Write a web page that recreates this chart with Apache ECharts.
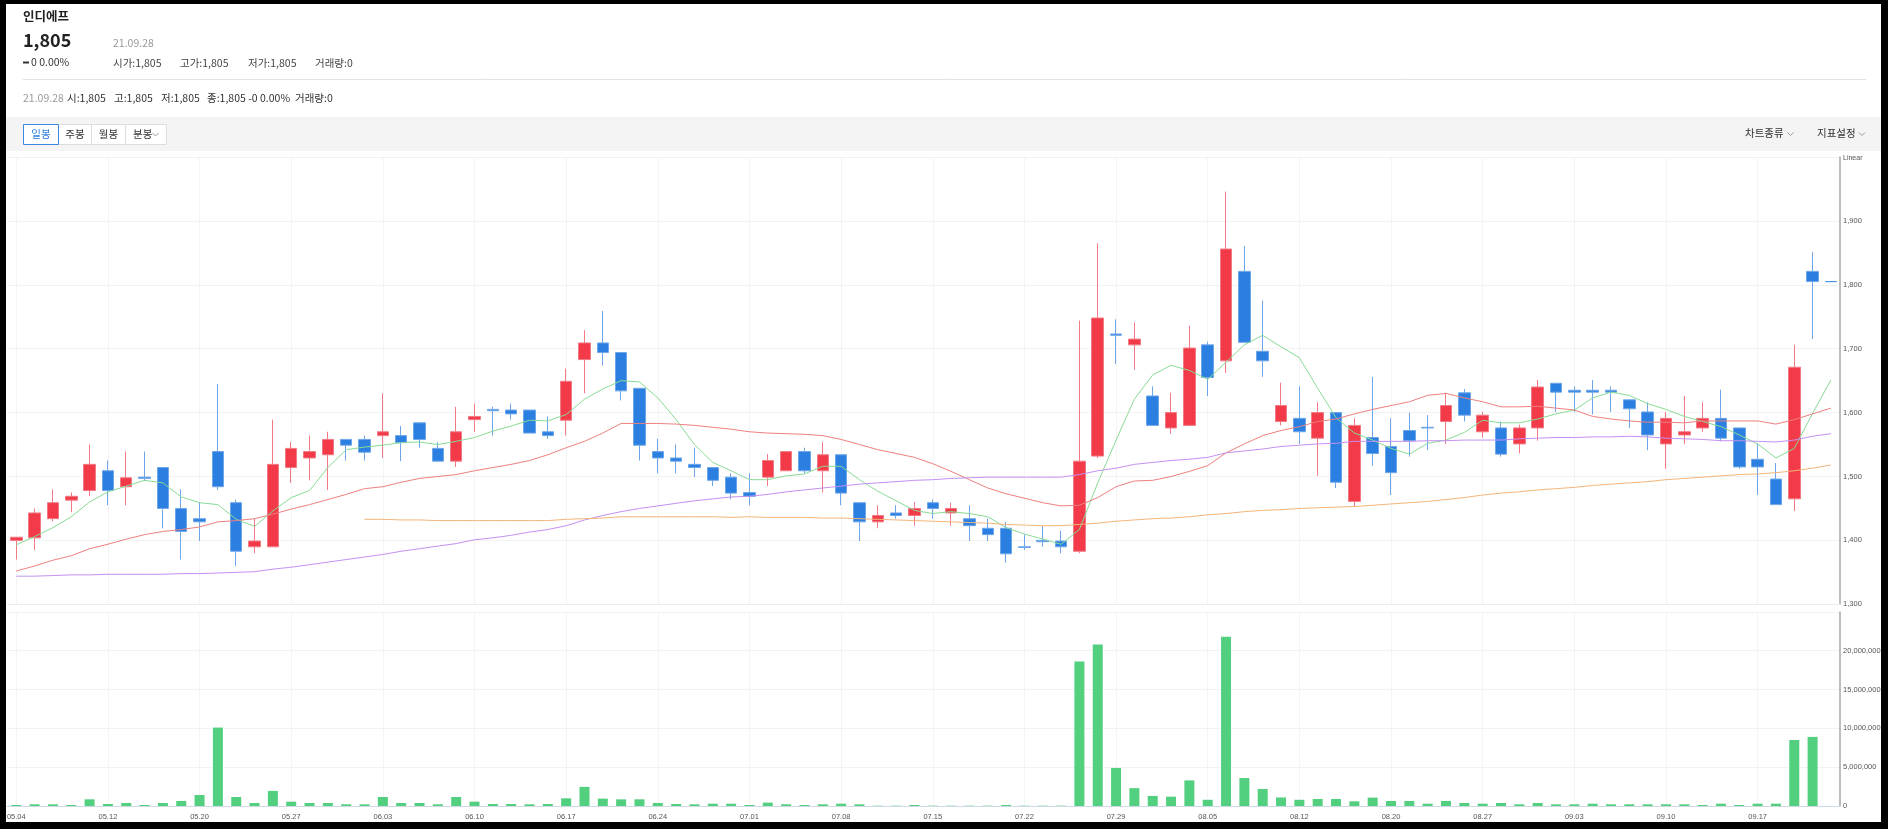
<!DOCTYPE html>
<html><head><meta charset="utf-8">
<script src="https://cdn.jsdelivr.net/npm/echarts@6/dist/echarts.min.js"></script>
<style>html,body{margin:0;padding:0;background:#000;overflow:hidden}#c{width:1888px;height:829px}</style>
</head><body><div id="c"></div>
<script>
const dates = ['05.04','05.06','05.07','05.10','05.11','05.12','05.13','05.14','05.17','05.18','05.20','05.21','05.24','05.25','05.26','05.27','05.28','05.31',
'06.01','06.02','06.03','06.04','06.07','06.08','06.09','06.10','06.11','06.14','06.15','06.16','06.17','06.18','06.21','06.22','06.23','06.24','06.25','06.28','06.29','06.30',
'07.01','07.02','07.05','07.06','07.07','07.08','07.09','07.12','07.13','07.14','07.15','07.16','07.19','07.20','07.21','07.22','07.23','07.26','07.27','07.28','07.29','07.30',
'08.02','08.03','08.04','08.05','08.06','08.09','08.10','08.11','08.12','08.13','08.17','08.18','08.19','08.20','08.23','08.24','08.25','08.26','08.27','08.30','08.31',
'09.01','09.02','09.03','09.06','09.07','09.08','09.09','09.10','09.13','09.14','09.15','09.16','09.17','09.23','09.24','09.27','09.28'];

const opens = [1400,1404,1434,1463,1478,1509,1484,1499,1514,1450,1434,1539,1459,1390,1390,1514,1529,1534,1558,1558,
1564,1564,1584,1544,1524,1589,1605,1604,1604,1570,1588,1683,1709,1694,1638,1539,1529,1519,1514,1499,
1475,1499,1509,1539,1509,1534,1459,1429,1443,1439,1459,1443,1434,1419,1419,1390,1400,1399,1383,1532,
1723,1706,1626,1576,1580,1706,1681,1821,1696,1586,1591,1560,1600,1461,1561,1547,1572,1577,1586,1631,
1570,1576,1551,1576,1646,1635,1635,1635,1620,1601,1551,1565,1576,1591,1576,1527,1496,1465,1821,1805];
const closes = [1405,1443,1459,1469,1519,1478,1498,1497,1450,1414,1429,1484,1383,1399,1519,1544,1539,1558,1549,1538,
1570,1553,1558,1524,1570,1594,1603,1598,1568,1564,1649,1709,1694,1634,1549,1529,1524,1514,1494,1474,
1469,1525,1539,1509,1534,1474,1429,1439,1439,1450,1450,1450,1423,1409,1379,1389,1398,1390,1524,1748,
1721,1715,1580,1600,1701,1655,1856,1710,1681,1611,1570,1600,1491,1580,1536,1506,1556,1576,1611,1596,
1596,1535,1576,1640,1632,1632,1632,1632,1606,1565,1591,1570,1591,1560,1515,1515,1456,1671,1805,1805];
const lows = [1370,1385,1430,1444,1469,1455,1455,1493,1419,1370,1399,1479,1360,1380,1390,1490,1494,1479,1525,1525,
1529,1524,1545,1524,1515,1570,1564,1589,1568,1559,1564,1630,1674,1619,1525,1505,1505,1499,1485,1464,
1455,1485,1509,1505,1475,1455,1399,1419,1434,1423,1434,1423,1399,1399,1365,1385,1390,1380,1380,1529,
1676,1667,1580,1567,1580,1626,1662,1710,1656,1580,1551,1501,1482,1453,1517,1471,1531,1541,1551,1586,
1561,1531,1536,1556,1601,1601,1597,1601,1576,1541,1512,1551,1570,1555,1512,1471,1456,1446,1715,1805];
const highs = [1405,1450,1480,1475,1550,1525,1539,1539,1514,1480,1460,1645,1464,1434,1589,1554,1564,1570,1558,1564,
1630,1579,1584,1554,1609,1614,1609,1614,1604,1594,1669,1729,1759,1694,1638,1559,1550,1545,1514,1505,
1505,1535,1539,1545,1554,1534,1459,1455,1455,1460,1464,1459,1455,1434,1429,1409,1423,1415,1744,1865,
1746,1741,1641,1631,1736,1711,1946,1861,1775,1647,1641,1616,1600,1591,1656,1591,1600,1596,1631,1637,
1601,1586,1581,1651,1646,1641,1651,1641,1620,1616,1601,1626,1616,1636,1576,1552,1521,1706,1851,1805];

const volumes = [130000,220000,220000,130000,860000,260000,390000,130000,390000,650000,1420000,10100000,1160000,390000,1940000,560000,390000,390000,220000,220000,
1160000,390000,390000,220000,1160000,560000,260000,260000,220000,260000,990000,2460000,950000,860000,860000,390000,260000,220000,300000,300000,
130000,430000,220000,130000,220000,300000,220000,40000,40000,130000,40000,40000,40000,40000,130000,40000,40000,40000,18600000,20800000,
4900000,2300000,1300000,1200000,3300000,800000,21800000,3600000,2200000,1100000,800000,900000,900000,600000,1080000,650000,650000,300000,650000,390000,
300000,390000,220000,390000,220000,220000,300000,220000,220000,220000,220000,220000,130000,300000,130000,300000,300000,8500000,8900000,0];

const ma5 = [1393,1406,1420,1437,1460,1476,1485,1494,1490,1468,1459,1456,1433,1422,1446,1467,1478,1514,1542,1546,
1549,1553,1554,1550,1555,1561,1571,1579,1588,1587,1597,1621,1637,1650,1648,1623,1589,1550,1522,1509,
1495,1495,1501,1504,1516,1516,1495,1477,1462,1447,1442,1445,1442,1437,1420,1410,1402,1394,1417,1490,
1557,1621,1659,1674,1666,1652,1679,1706,1721,1703,1686,1638,1592,1568,1557,1544,1535,1552,1557,1569,
1588,1584,1584,1590,1598,1604,1623,1632,1627,1614,1605,1594,1586,1578,1565,1551,1529,1544,1599,1651];
const ma20 = [1352,1360,1369,1376,1387,1394,1402,1409,1414,1417,1421,1429,1431,1434,1441,1449,1456,1464,1472,1481,
1484,1491,1497,1500,1503,1509,1514,1519,1525,1534,1545,1555,1568,1583,1583,1583,1582,1580,1577,1574,
1570,1568,1567,1566,1564,1558,1550,1542,1536,1530,1520,1508,1495,1482,1473,1466,1459,1454,1455,1467,
1484,1493,1494,1500,1508,1517,1537,1551,1564,1572,1578,1586,1590,1598,1605,1611,1617,1627,1630,1623,
1617,1609,1609,1610,1607,1604,1594,1590,1587,1585,1585,1584,1587,1587,1587,1587,1582,1589,1598,1607];
const ma60 = [1344,1344,1345,1346,1346,1347,1347,1347,1347,1348,1348,1349,1350,1351,1355,1358,1362,1366,1370,1374,
1378,1383,1387,1391,1395,1401,1404,1408,1413,1417,1423,1432,1439,1445,1450,1454,1458,1462,1465,1468,
1469,1472,1476,1479,1482,1485,1488,1490,1492,1494,1495,1497,1498,1499,1499,1499,1499,1499,1503,1509,
1513,1519,1522,1525,1527,1530,1537,1540,1543,1547,1549,1551,1552,1555,1555,1555,1555,1556,1556,1557,
1557,1557,1559,1560,1561,1561,1562,1562,1563,1562,1560,1559,1558,1556,1556,1555,1554,1557,1563,1567];
const ma120 = ['-','-','-','-','-','-','-','-','-','-','-','-','-','-','-','-','-','-','-',1433,
1433,1432,1432,1431,1431,1431,1431,1431,1431,1431,1433,1434,1435,1437,1437,1437,1437,1437,1437,1436,
1437,1436,1436,1436,1435,1435,1434,1433,1432,1431,1430,1429,1428,1427,1425,1424,1423,1423,1425,1427,
1430,1432,1434,1435,1437,1440,1442,1445,1447,1448,1450,1451,1452,1453,1455,1457,1459,1461,1464,1467,
1471,1474,1476,1479,1481,1483,1486,1488,1490,1492,1495,1497,1499,1501,1503,1504,1506,1509,1513,1518];

const priceMin = 1300, priceMax = 2000, priceStep = 100;
const volMin = 0, volMax = 25000000, volStep = 5000000;

const KR = '"Noto Sans CJK KR", "Noto Sans", sans-serif';
const AX = '"Liberation Sans", Arial, sans-serif';
const candles = dates.map((d, i) => [opens[i], closes[i], lows[i], highs[i]]);

function txt(x, y, text, size, fill, weight, align) {
  return { type: 'text', z: 50, silent: true, style: {
    text: text, x: x, y: y, fill: fill,
    font: (weight || 'normal') + ' ' + size + 'px ' + KR,
    textAlign: align || 'left', textVerticalAlign: 'middle',
    align: align || 'left', verticalAlign: 'middle'
  } };
}
function box(x, y, w, h, fill, stroke) {
  return { type: 'rect', z: 40, silent: true, shape: { x: x, y: y, width: w, height: h },
    style: { fill: fill, stroke: stroke || null, lineWidth: 1 } };
}
function chev(x, y) {
  return { type: 'polyline', z: 50, silent: true,
    shape: { points: [[x, y], [x + 3, y + 3], [x + 6, y]] },
    style: { stroke: '#999', lineWidth: 1, fill: null } };
}
const commas = v => echarts.format.addCommas(v);

const graphics = [
  box(0, 0, 1888, 829, '#ffffff'),
  txt(23, 16, '인디에프', 12.5, '#222', 'bold'),
  txt(23, 40, '1,805', 18, '#222', 'bold'),
  txt(113, 43, '21.09.28', 10.5, '#9a9a9a'),
  box(23, 61.5, 6, 2, '#333'),
  txt(31, 62.5, '0 0.00%', 10.5, '#333'),
  txt(113, 63, '시가:1,805', 10.5, '#444'),
  txt(180, 63, '고가:1,805', 10.5, '#444'),
  txt(248, 63, '저가:1,805', 10.5, '#444'),
  txt(315, 63, '거래량:0', 10.5, '#444'),
  { type: 'line', z: 40, silent: true, shape: { x1: 23, y1: 79.5, x2: 1866, y2: 79.5 }, style: { stroke: '#e2e2e2', lineWidth: 1 } },
  txt(23, 98, '21.09.28', 10.5, '#9a9a9a'),
  txt(67, 98, '시:1,805', 10.5, '#333'),
  txt(114, 98, '고:1,805', 10.5, '#333'),
  txt(161, 98, '저:1,805', 10.5, '#333'),
  txt(207, 98, '종:1,805 -0 0.00%', 10.5, '#333'),
  txt(295, 98, '거래량:0', 10.5, '#333'),
  box(6, 117, 1875, 34, '#f4f4f4'),
  box(58.5, 124.5, 33, 20, '#ffffff', '#dddddd'),
  box(91.5, 124.5, 34, 20, '#ffffff', '#dddddd'),
  box(125.5, 124.5, 41, 20, '#ffffff', '#dddddd'),
  box(23.5, 124.5, 35, 20, '#ffffff', '#3d86e3'),
  txt(41, 134.5, '일봉', 10.5, '#2f7fe0', 'normal', 'center'),
  txt(75, 134.5, '주봉', 10.5, '#333', 'normal', 'center'),
  txt(108.5, 134.5, '월봉', 10.5, '#333', 'normal', 'center'),
  txt(133, 134.5, '분봉', 10.5, '#333'),
  chev(152.5, 133),
  txt(1745, 133.5, '차트종류', 10.5, '#333'),
  chev(1787.5, 132.5),
  txt(1817, 133.5, '지표설정', 10.5, '#333'),
  chev(1859, 132.5),
  { type: 'text', z: 50, silent: true, style: { text: 'Linear', x: 1843, y: 158.5, fill: '#555',
    font: '7px ' + AX, textVerticalAlign: 'middle', verticalAlign: 'middle' } },
  { type: 'rect', z: 100, silent: true, shape: { x: 0, y: 0, width: 1888, height: 4 }, style: { fill: '#000' } },
  { type: 'rect', z: 100, silent: true, shape: { x: 0, y: 0, width: 6, height: 829 }, style: { fill: '#000' } },
  { type: 'rect', z: 100, silent: true, shape: { x: 1881, y: 0, width: 7, height: 829 }, style: { fill: '#000' } },
  { type: 'rect', z: 100, silent: true, shape: { x: 0, y: 822, width: 1888, height: 7 }, style: { fill: '#000' } }
];
graphics[0].z = -10;

const chart = echarts.init(document.getElementById('c'), null, { renderer: 'canvas' });
const gridLeft = 7.1, gridRight = 47.9;
chart.setOption({
  animation: false,
  backgroundColor: '#000',
  graphic: { elements: graphics },
  grid: [
    { left: gridLeft, right: gridRight, top: 157, height: 447.3 },
    { left: gridLeft, right: gridRight, top: 611.9, height: 194.1 }
  ],
  xAxis: [
    { type: 'category', gridIndex: 0, data: dates, boundaryGap: true,
      axisLine: { show: true, lineStyle: { color: '#ececec' } }, axisTick: { show: false }, axisLabel: { show: false },
      splitLine: { show: true, interval: 4, alignWithLabel: true, lineStyle: { color: '#f4f4f4' } } },
    { type: 'category', gridIndex: 1, data: dates, boundaryGap: true,
      axisLine: { show: true, lineStyle: { color: '#cfd8e6' } }, axisTick: { show: false },
      axisLabel: { interval: 4, color: '#555', fontSize: 7.5, fontFamily: AX, margin: 7 },
      splitLine: { show: true, interval: 4, alignWithLabel: true, lineStyle: { color: '#f4f4f4' } } }
  ],
  yAxis: [
    { type: 'value', gridIndex: 0, position: 'right', min: priceMin, max: priceMax, interval: priceStep, scale: false,
      axisLine: { show: true, lineStyle: { color: '#a8a8a8', width: 1.5 } }, axisTick: { show: false },
      axisLabel: { showMaxLabel: false, color: '#555', fontSize: 7.5, fontFamily: AX, margin: 3, formatter: commas },
      splitLine: { show: true, lineStyle: { color: '#f2f2f2' } } },
    { type: 'value', gridIndex: 1, position: 'right', min: volMin, max: volMax, interval: volStep,
      axisLine: { show: true, lineStyle: { color: '#a8a8a8', width: 1.5 } }, axisTick: { show: false },
      axisLabel: { showMaxLabel: false, color: '#555', fontSize: 7.5, fontFamily: AX, margin: 3, formatter: commas },
      splitLine: { show: true, lineStyle: { color: '#f2f2f2' } } }
  ],
  series: [
    { type: 'candlestick', xAxisIndex: 0, yAxisIndex: 0, data: candles, barWidth: 12,
      itemStyle: { color: '#f23a48', color0: '#2b7fe0', borderColor: '#f27a84', borderColor0: '#6ea6ea',
        borderColorDoji: '#4a90e2', borderWidth: 1 } },
    { type: 'line', xAxisIndex: 0, yAxisIndex: 0, data: ma5, symbol: 'none', smooth: false,
      lineStyle: { color: '#88dc95', width: 1 } },
    { type: 'line', xAxisIndex: 0, yAxisIndex: 0, data: ma20, symbol: 'none', smooth: false,
      lineStyle: { color: '#ee8080', width: 1 } },
    { type: 'line', xAxisIndex: 0, yAxisIndex: 0, data: ma60, symbol: 'none', smooth: false,
      lineStyle: { color: '#c490f2', width: 1 } },
    { type: 'line', xAxisIndex: 0, yAxisIndex: 0, data: ma120, symbol: 'none', smooth: false,
      lineStyle: { color: '#f5b57a', width: 1 } },
    { type: 'bar', xAxisIndex: 1, yAxisIndex: 1, data: volumes, barWidth: 10,
      itemStyle: { color: '#53d07f' } }
  ]
});
</script></body></html>
